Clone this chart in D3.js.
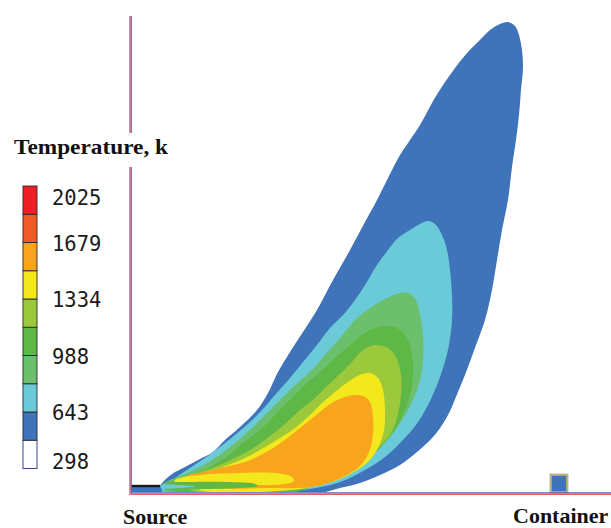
<!DOCTYPE html>
<html>
<head>
<meta charset="utf-8">
<script src="https://cdn.jsdelivr.net/npm/d3@7/dist/d3.min.js"></script>
<style>
  html, body { margin: 0; padding: 0; background: #fff; }
  svg { display: block; }
</style>
</head>
<body>
<div id="chart"></div>
<script>
// Temperature field of a fire plume leaning downwind from the source (K).
// Distances are in metres: x along the ground, y height above it.

// Colour bar: 10 equal bands between the minimum and maximum temperature
const tempMin = 298;
const tempMax = 2025;
const bandColors = ["#ffffff", "#3f74bb", "#6bcad8", "#6cbf6c", "#5fb746",
                    "#9cc93b", "#f2e81b", "#f8a51d", "#f15a25", "#ed1f25"];
const tickLabels = [298, 643, 988, 1334, 1679, 2025];

// Isotherm regions (outline of the area hotter than the given band edge)
const iso471 = [[2.9,0.6],[3.2,1.0],[4.1,1.8],[5.4,2.5],[6.9,3.3],[8.2,4.0],[9.4,5.2],[10.9,6.5],
  [12.6,8.2],[13.7,9.9],[14.7,12.0],[15.9,14.0],[17.2,16.0],[18.6,18.2],[20.2,21.2],[21.9,24.2],
  [23.4,27.0],[24.6,29.2],[25.6,31.2],[26.9,33.7],[27.9,35.2],[28.9,36.7],[30.1,38.9],[31.2,40.7],
  [32.4,42.4],[33.7,44.0],[34.9,45.2],[35.9,46.2],[36.9,46.8],[37.7,47.0],[38.4,46.6],[38.8,45.7],
  [39.1,44.2],[39.2,42.4],[39.0,40.2],[38.8,37.7],[38.5,35.2],[38.1,32.5],[37.7,29.2],[37.1,26.2],
  [36.6,23.2],[36.1,20.2],[35.4,17.2],[34.5,14.7],[33.7,12.5],[32.7,10.0],[31.6,7.5],[30.2,5.5],
  [28.6,4.0],[26.9,2.7],[24.9,1.7],[22.9,0.9],[20.9,0.4],[17.9,-0.3],[2.9,-0.3]];
const iso643 = [[3.1,0.6],[4.4,1.4],[5.9,2.4],[7.4,3.4],[8.9,4.5],[10.4,5.7],[11.9,7.0],[13.1,8.2],
  [14.4,9.7],[15.9,11.4],[17.2,13.0],[18.6,14.7],[19.9,16.4],[21.2,17.7],[22.4,19.2],[23.4,20.7],
  [24.6,22.7],[25.7,24.2],[26.7,25.4],[27.9,26.2],[28.9,26.8],[29.7,27.1],[30.4,26.8],[31.1,25.7],
  [31.6,24.2],[31.9,22.2],[32.1,19.7],[32.1,17.2],[31.8,14.7],[31.3,12.7],[30.6,10.7],[29.7,8.7],
  [28.5,6.7],[26.9,4.9],[25.4,3.5],[23.4,2.2],[20.9,1.0],[17.9,0.3],[11.9,-0.3],[3.4,-0.3]];
const iso816 = [[3.2,0.7],[4.9,1.6],[6.7,2.4],[8.4,3.4],[10.4,4.9],[11.9,6.2],[13.4,7.7],[14.9,9.2],
  [16.4,10.7],[17.9,12.0],[19.4,13.7],[20.9,15.4],[22.4,17.2],[23.9,18.4],[25.4,19.3],[26.9,19.9],
  [27.7,19.9],[28.5,19.2],[28.9,17.7],[29.2,15.7],[29.2,13.2],[28.9,11.2],[28.2,9.2],[27.1,7.2],
  [25.9,5.5],[24.4,4.0],[22.6,2.7],[20.4,1.4],[17.9,0.5],[13.9,-0.3],[3.9,-0.3]];
const iso988 = [[3.9,0.8],[5.9,1.6],[7.7,2.4],[9.4,3.4],[11.2,4.9],[12.9,6.2],[14.6,7.9],[16.1,9.4],
  [17.4,10.7],[18.9,12.0],[20.4,13.4],[21.9,14.7],[23.1,15.7],[24.4,16.4],[25.9,16.6],[26.9,16.2],
  [27.7,15.2],[28.1,13.7],[28.2,11.7],[27.9,9.7],[27.2,7.7],[26.2,6.0],[24.7,4.2],[22.9,2.8],
  [20.9,1.6],[18.4,0.6],[14.9,-0.3],[4.9,-0.3]];
const iso1161 = [[4.9,1.2],[6.4,1.8],[8.4,2.5],[10.4,3.4],[12.4,4.5],[13.9,5.6],[15.4,6.8],[16.9,8.2],
  [18.4,9.4],[19.7,10.7],[20.9,11.8],[22.1,13.0],[23.2,14.2],[24.4,14.7],[25.7,14.4],[26.5,13.5],
  [27.0,11.7],[27.0,9.7],[26.6,7.4],[25.9,5.7],[24.5,4.2],[22.9,2.9],[20.9,1.7],[18.4,0.7],
  [15.9,0.2],[5.9,0.2]];
const iso1334 = [[5.4,1.4],[6.9,1.8],[8.9,2.4],[11.4,3.4],[13.4,4.5],[14.9,5.4],[16.4,6.4],[17.9,7.7],
  [19.1,8.9],[20.4,10.0],[21.7,11.0],[22.9,11.7],[23.9,11.9],[24.7,11.4],[25.2,10.2],[25.4,8.2],
  [25.3,6.2],[24.7,4.4],[23.7,3.0],[22.1,1.9],[20.4,1.1],[18.1,0.5],[15.9,0.2],[6.9,0.2]];
const iso1507 = [[5.7,1.6],[7.4,2.0],[9.4,2.5],[11.7,3.1],[13.7,4.1],[15.4,5.2],[16.9,6.4],[18.4,7.6],
  [19.9,8.8],[21.1,9.4],[22.4,9.7],[23.2,9.6],[23.9,9.0],[24.2,7.4],[24.2,5.7],[23.8,4.0],
  [22.9,2.6],[21.4,1.6],[19.7,0.9],[17.9,0.5],[16.7,0.4],[13.9,0.4],[6.9,0.6]];
// Cooler core of the jet right at the nozzle, lying under the flame
const coreYellow = [[4.4,1.2],[6.9,1.7],[10.9,1.9],[14.4,1.9],[16.1,1.5],[16.3,1.1],[15.4,0.8],
  [11.9,0.7],[6.9,0.7],[4.4,0.8]];
const coreGreen = [[3.1,0.8],[5.9,1.0],[9.9,1.0],[12.4,0.8],[12.7,0.6],[10.9,0.4],[6.9,0.3],[3.4,0.3]];
const coreCyan = [[3.0,0.7],[4.9,0.7],[6.4,0.55],[4.9,0.4],[3.0,0.4]];

// Source nozzle and the target container on the ground (metres)
const sourceSpan = [0, 2.9];
const sourceHeight = 0.55;
const containerSpan = [42.0, 43.6];
const containerHeight = 1.7;

const W = 611, H = 528;
const svg = d3.select("#chart").append("svg").attr("width", W).attr("height", H);

const x = d3.scaleLinear([0, 48], [131, 611]);
const y = d3.scaleLinear([0, 47.6], [492, 16]);

const step = (tempMax - tempMin) / 10;
const edges = d3.range(11).map(i => tempMin + i * step);
const color = d3.scaleThreshold(edges.slice(1, 10), bandColors);

// ---- plume contours
svg.append("clipPath").attr("id", "field")
  .append("rect").attr("x", x(0)).attr("y", y(47.6)).attr("width", x(48) - x(0)).attr("height", y(0) - y(47.6));

const area = d3.line().x(d => x(d[0])).y(d => y(d[1])).curve(d3.curveCatmullRomClosed.alpha(0.5));
const regions = [
  [iso471, edges[1]], [iso643, edges[2]], [iso816, edges[3]], [iso988, edges[4]],
  [iso1161, edges[5]], [iso1334, edges[6]], [iso1507, edges[7]],
  [coreYellow, edges[6]], [coreGreen, edges[4]], [coreCyan, edges[2]]
];
const field = svg.append("g").attr("clip-path", "url(#field)");
field.selectAll("path").data(regions).join("path")
  .attr("d", d => area(d[0]))
  .attr("fill", d => color(d[1] + 1));

// source nozzle: cold inflow strip with the black pipe wall on top
field.append("rect")
  .attr("x", x(sourceSpan[0])).attr("width", x(sourceSpan[1]) - x(sourceSpan[0]))
  .attr("y", y(sourceHeight)).attr("height", y(0) - y(sourceHeight))
  .attr("fill", color(edges[1] + 1));
svg.append("line")
  .attr("x1", x(sourceSpan[0])).attr("x2", x(sourceSpan[1]))
  .attr("y1", y(sourceHeight) - 0.5).attr("y2", y(sourceHeight) - 0.5)
  .attr("stroke", "#1a1a1a").attr("stroke-width", 2.4);

// container
svg.append("rect")
  .attr("x", x(containerSpan[0])).attr("y", y(containerHeight))
  .attr("width", x(containerSpan[1]) - x(containerSpan[0]))
  .attr("height", y(0) - y(containerHeight))
  .attr("fill", color(edges[1] + 1)).attr("stroke", "#c9b447").attr("stroke-width", 1.6);
svg.append("rect")
  .attr("x", x(containerSpan[0]) - 1).attr("y", y(containerHeight) - 1)
  .attr("width", x(containerSpan[1]) - x(containerSpan[0]) + 2)
  .attr("height", y(0) - y(containerHeight) + 2)
  .attr("fill", "none").attr("stroke", "#8a8fb0").attr("stroke-width", 0.6);

// ---- domain boundaries (ground and inlet wall)
svg.append("line").attr("x1", x(0)).attr("x2", W).attr("y1", y(0) + 0.8).attr("y2", y(0) + 0.8)
  .attr("stroke", "#5560b8").attr("stroke-width", 1.2);
svg.append("line").attr("x1", x(0)).attr("x2", W).attr("y1", y(0) + 2.2).attr("y2", y(0) + 2.2)
  .attr("stroke", "#ea5a64").attr("stroke-width", 1.6);
svg.append("line").attr("x1", x(0) - 1).attr("x2", x(0) - 1).attr("y1", y(47.6)).attr("y2", y(0) + 3)
  .attr("stroke", "#e5505c").attr("stroke-width", 1.4);
svg.append("line").attr("x1", x(0) + 0.3).attr("x2", x(0) + 0.3).attr("y1", y(47.6)).attr("y2", y(0) + 1)
  .attr("stroke", "#5560b8").attr("stroke-width", 1.1);

// ---- colour bar
const lg = d3.scaleLinear([tempMin, tempMax], [468.5, 186]);
const legend = svg.append("g");
legend.append("rect").attr("x", 10).attr("y", 133).attr("width", 165).attr("height", 34).attr("fill", "#fff");
legend.append("text")
  .attr("x", 14).attr("y", 154)
  .attr("font-family", "'Liberation Serif', 'Times New Roman', serif")
  .attr("font-weight", "bold").attr("font-size", 22)
  .attr("textLength", 154).attr("lengthAdjust", "spacingAndGlyphs")
  .attr("fill", "#111")
  .text("Temperature, k");

legend.selectAll("rect.band").data(d3.range(10)).join("rect")
  .attr("class", "band")
  .attr("x", 23).attr("width", 14)
  .attr("y", i => lg(edges[i + 1])).attr("height", i => lg(edges[i]) - lg(edges[i + 1]))
  .attr("fill", i => bandColors[i])
  .attr("stroke", i => i === 0 ? "#27307a" : "#2b2b2b").attr("stroke-width", 0.9);

legend.selectAll("text.tick").data(tickLabels).join("text")
  .attr("class", "tick")
  .attr("x", 52)
  .attr("y", v => Math.max(198, Math.min(462, lg(v) + 1)))
  .attr("dy", "0.36em")
  .attr("font-family", "'DejaVu Sans Mono', monospace")
  .attr("font-size", 20.5)
  .attr("fill", "#1a1a1a")
  .text(v => v);

// ---- labels under the ground line
svg.append("text").attr("x", 123).attr("y", 524)
  .attr("font-family", "'Liberation Serif', 'Times New Roman', serif")
  .attr("font-weight", "bold").attr("font-size", 22).attr("fill", "#111")
  .text("Source");
svg.append("text").attr("x", 513).attr("y", 522.5)
  .attr("font-family", "'Liberation Serif', 'Times New Roman', serif")
  .attr("font-weight", "bold").attr("font-size", 22).attr("fill", "#111")
  .text("Container");
</script>
</body>
</html>
